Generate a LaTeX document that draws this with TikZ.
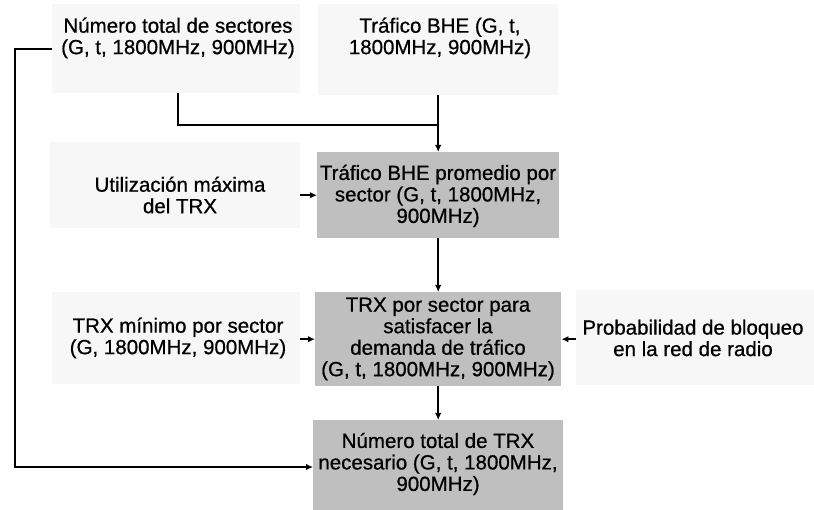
\documentclass[tikz,border=0pt]{standalone}
\usepackage{fontspec}
\setmainfont[FakeBold=0.7]{Liberation Sans}
\usetikzlibrary{arrows.meta}
\begin{document}
\begin{tikzpicture}[x=1pt,y=-1pt,
  inbox/.style={fill=gray!6, draw=none, anchor=north west, inner sep=0pt},
  procbox/.style={fill=gray!50, draw=none, anchor=north west, inner sep=0pt},
  lbl/.style={align=center, font=\fontsize{20.5}{21.5}\selectfont, inner sep=0pt},
  conn/.style={line width=1.8pt},
  arr/.style={conn, -{Latex[length=7pt,width=6.5pt]}}]
\useasboundingbox (0,0) rectangle (814,510);
% boxes
\node[inbox, minimum width=248pt, minimum height=89pt] (A) at (52,4) {};
\node[inbox, minimum width=240pt, minimum height=91pt] (B) at (318,4) {};
\node[inbox, minimum width=250pt, minimum height=86pt] (D) at (50,142) {};
\node[procbox, minimum width=242pt, minimum height=86pt] (C) at (317,152) {};
\node[inbox, minimum width=248pt, minimum height=92pt] (G) at (52,292) {};
\node[procbox, minimum width=246pt, minimum height=94pt] (F) at (315,292) {};
\node[inbox, minimum width=238pt, minimum height=95pt] (H) at (576,290) {};
\node[procbox, minimum width=250pt, minimum height=90pt] (E) at (313,420) {};
% texts
\node[lbl] (At) at (178,38) {Número total de sectores\\(G, t, 1800MHz, 900MHz)};
\node[lbl] (Bt) at (440,38) {Tráfico BHE (G, t,\\1800MHz, 900MHz)};
\node[lbl] (Dt) at (180,195) {Utilización máxima\\del TRX};
\node[lbl] (Ct) at (438,196) {Tráfico BHE promedio por\\sector (G, t, 1800MHz,\\900MHz)};
\node[lbl] (Gt) at (178,338) {TRX mínimo por sector\\(G, 1800MHz, 900MHz)};
\node[lbl] (Ft) at (438,339) {TRX por sector para\\satisfacer la\\demanda de tráfico\\(G, t, 1800MHz, 900MHz)};
\node[lbl] (Ht) at (693,338) {Probabilidad de bloqueo\\en la red de radio};
\node[lbl] (Et) at (438,464) {Número total de TRX\\necesario (G, t, 1800MHz,\\900MHz)};
% connectors
\coordinate (J) at (438,125);
\coordinate (L) at (15,467);
\draw[conn] (At |- A.south) |- (J);
\draw[arr] (B.south) -- (C.north);
\draw[arr] (A.west) -| (L) -- (E.west |- L);
\draw[arr] (D.east |- C.west) -- (C.west);
\draw[arr] (C.south) -- (F.north);
\draw[arr] (G.east |- F.west) -- (F.west);
\draw[arr] (H.west |- F.east) -- (F.east);
\draw[arr] (F.south) -- (E.north);
\end{tikzpicture}
\end{document}
